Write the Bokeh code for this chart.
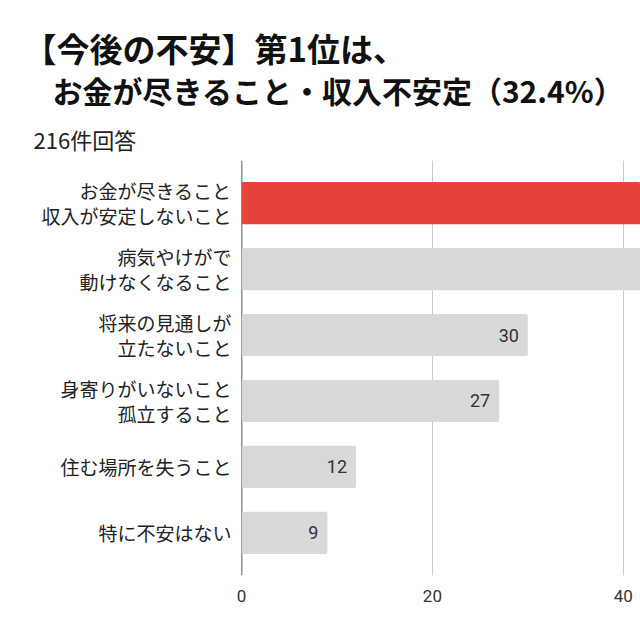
from bokeh.plotting import figure
from bokeh.models import ColumnDataSource, Range1d, FixedTicker, Span, Title
from bokeh.core.properties import value
from bokeh.embed import file_html
from bokeh.resources import INLINE

# Survey: biggest worries about the future (216 responses)
categories = [
    "お金が尽きること\n収入が安定しないこと",
    "病気やけがで\n動けなくなること",
    "将来の見通しが\n立たないこと",
    "身寄りがいないこと\n孤立すること",
    "住む場所を失うこと",
    "特に不安はない",
]
counts = [70, 68, 30, 27, 12, 9]
x_ticks = [0, 20, 40]

title_line1 = "【今後の不安】第1位は、"
title_line2 = "　お金が尽きること・収入不安定（32.4%）"
subtitle = "216件回答"

JP = "Noto Sans CJK JP"
RED = "#e8433a"
GRAY = "#d9d9d9"
X_MAX = 41.8  # visible part of the value axis

pos = list(range(len(categories)))
colors = [RED] + [GRAY] * (len(categories) - 1)

bars = ColumnDataSource(dict(y=pos, v=counts, c=colors))

# value labels only for bars that end inside the visible range
shown = [i for i, v in enumerate(counts) if v < X_MAX]
labels = ColumnDataSource(dict(
    y=[pos[i] for i in shown],
    v=[counts[i] for i in shown],
    t=[str(counts[i]) for i in shown],
))

p = figure(
    width=640, height=640, title=None,
    output_backend="svg", toolbar_location=None,
    x_range=Range1d(0, X_MAX),
    y_range=Range1d(len(categories) - 0.5 + 0.145, -0.5 - 0.145),
    min_border_left=241, min_border_right=0,
    min_border_top=160, min_border_bottom=65,
)
p.outline_line_color = None
p.background_fill_color = "white"
p.border_fill_color = "white"

# zero line drawn beneath the bars
p.add_layout(Span(location=0, dimension="height", line_color="#222222",
                  line_width=1.5, level="underlay"))

p.hbar(y="y", right="v", left=0, height=0.64, fill_color="c",
       line_color=None, border_radius=2, source=bars)

p.text(x="v", y="y", text="t", source=labels, x_offset=-9,
       text_align="right", text_baseline="middle",
       text_font=value("Roboto"), text_font_size="18px", text_color="#333333")

# axes
p.xaxis.ticker = FixedTicker(ticks=x_ticks)
p.xaxis.axis_line_color = None
p.xaxis.major_tick_line_color = None
p.xaxis.minor_tick_line_color = None
p.xaxis.major_label_standoff = 8
p.xaxis.major_label_text_font = "Roboto"
p.xaxis.major_label_text_font_size = "17px"
p.xaxis.major_label_text_color = "#333333"

p.yaxis.ticker = FixedTicker(ticks=pos)
p.yaxis.major_label_overrides = {i: c for i, c in zip(pos, categories)}
p.yaxis.axis_line_color = None
p.yaxis.major_tick_line_color = None
p.yaxis.minor_tick_line_color = None
p.yaxis.major_label_standoff = 4
p.yaxis.major_label_text_font = JP
p.yaxis.major_label_text_font_size = "19px"
p.yaxis.major_label_text_line_height = 0.9
p.yaxis.major_label_text_color = "#222222"

p.xgrid.ticker = FixedTicker(ticks=[t for t in x_ticks if t != 0])
p.xgrid.grid_line_color = "#cccccc"
p.xgrid.grid_line_width = 1
p.ygrid.grid_line_color = None

# headline and response count, stacked above the plot area
# (the first one added sits closest to the bars)
p.add_layout(Title(text=subtitle, align="left", offset=-208, standoff=12,
                   text_font=JP, text_font_size="22px", text_font_style="normal",
                   text_color="#222222"), "above")
p.add_layout(Title(text=title_line2, align="left", offset=-219, standoff=5,
                   text_font=JP, text_font_size="30px", text_font_style="bold",
                   text_color="#111111"), "above")
p.add_layout(Title(text=title_line1, align="left", offset=-218, standoff=-17,
                   text_font=JP, text_font_size="33px", text_font_style="bold",
                   text_color="#111111"), "above")

open("out.html", "w").write(file_html(p, INLINE))
